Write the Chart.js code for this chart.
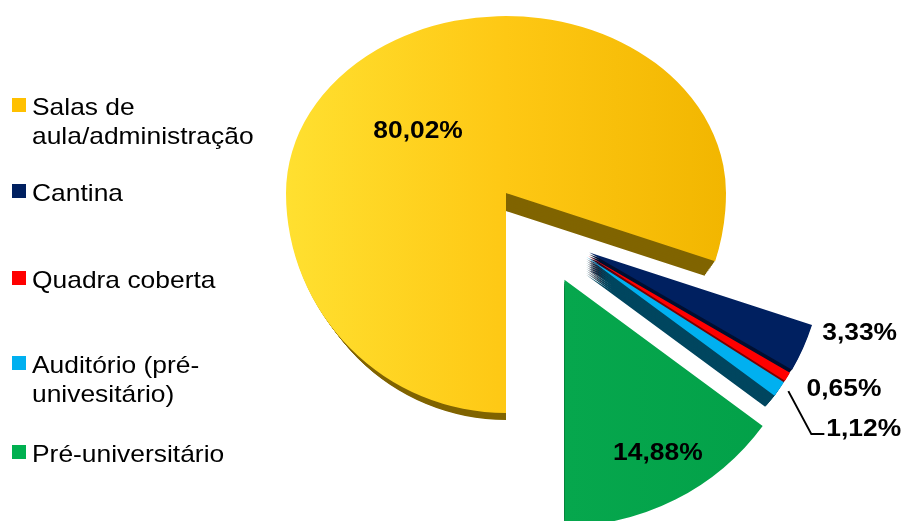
<!DOCTYPE html>
<html>
<head>
<meta charset="utf-8">
<script src="https://cdn.jsdelivr.net/npm/chart.js@4.4.1/dist/chart.umd.min.js"></script>
<style>
  html, body { margin: 0; padding: 0; background: #fff; }
  #wrap { position: relative; width: 906px; height: 521px; overflow: hidden; }
  #pie { position: absolute; left: 0; top: 0; }
  #legend { position: absolute; left: 0; top: 0; font-family: 'Liberation Sans', Arial, sans-serif; font-size: 24px; color: #000; }
  .box { position: absolute; left: 12px; width: 14px; height: 14px; }
  .txt { position: absolute; left: 32px; line-height: 29px; white-space: nowrap; transform: scaleX(1.1); transform-origin: 0 0; }
</style>
</head>
<body>
<div id="wrap">
  <canvas id="pie" width="906" height="521"></canvas>
  <div id="legend"></div>
</div>
<script>
// categories (legend lines) and shares in %
const categories = [
    ['Salas de', 'aula/administração'],
    ['Cantina'],
    ['Quadra coberta'],
    ['Auditório (pré-', 'univesitário)'],
    ['Pré-universitário']
];
const shares = [80.02, 3.33, 0.65, 1.12, 14.88];

const sliceColors = ['#FFC000', '#002060', '#FF0000', '#00B0F0', '#00B050'];
const wallColors  = ['#806400', '#000F30', '#7A0000', '#00465F', '#005A28'];

// explode direction (deg) / distance, radius scale and wall shrink per slice
const explodeAngle = [0, 35.5, 37.5, 38.5, 56];
const explodeDist  = [0, 93, 93, 93, 95];
const sliceScale   = [1, 1.065, 1.065, 1.065, 1.12];
const wallShrink   = [0.95, 0.95, 0.95, 0.95, 0.86];

// label placement: inside = [angle offset from mid, radius fraction]; outside = screen nudge from rim
const labelInside  = { 0: [-13, 0.53], 4: [-1.5, 0.8] };
const labelOutside = { 1: [19, -15], 2: [19, 13], 3: [47, 40] };
const legendTop = [92, 178, 265, 350, 439];

const W = 906, H = 521;
const SX = 1.1, K_TOP = 0.885, K_BOT = 1.1;
const DEPTH = 18;
const rad = d => d * Math.PI / 180;

// legend
const legend = document.getElementById('legend');
categories.forEach((lines, i) => {
    const box = document.createElement('div');
    box.className = 'box';
    box.style.top = (legendTop[i] + 6) + 'px';
    box.style.background = sliceColors[i];
    const txt = document.createElement('div');
    txt.className = 'txt';
    txt.style.top = legendTop[i] + 'px';
    txt.innerHTML = lines.join('<br>');
    legend.appendChild(box);
    legend.appendChild(txt);
});

function fillFor(ctx, i, cx, r) {
    if (i === 0) {
        const g = ctx.createLinearGradient(cx - r, 0, cx + r, 0);
        g.addColorStop(0, '#FFE030');
        g.addColorStop(0.5, '#FEC814');
        g.addColorStop(1, '#F2B600');
        return g;
    }
    if (i === 4) {
        const g = ctx.createLinearGradient(cx - r, 0, cx + r, 0);
        g.addColorStop(0, '#0AAE52');
        g.addColorStop(1, '#02A048');
        return g;
    }
    return sliceColors[i];
}

function drawSlice(ctx, arc, i, k, d, shrink, color) {
    const cx = arc.x, cy = arc.y;
    ctx.save();
    ctx.translate(cx, cy + d);
    ctx.scale(SX, k);
    ctx.translate(Math.cos(rad(explodeAngle[i])) * explodeDist[i], Math.sin(rad(explodeAngle[i])) * explodeDist[i]);
    const s = sliceScale[i] * shrink;
    ctx.scale(s, s);
    ctx.translate(-cx, -cy);
    const opts = arc.options;
    arc.options = Object.assign({}, opts, { backgroundColor: color, borderWidth: 0 });
    arc.draw(ctx);
    arc.options = opts;
    ctx.restore();
}

// point on a slice (polar around its own apex) -> screen
function slicePoint(arc, i, angDeg, rf) {
    const cx = arc.x, cy = arc.y;
    const ex = Math.cos(rad(explodeAngle[i])) * explodeDist[i];
    const ey = Math.sin(rad(explodeAngle[i])) * explodeDist[i];
    const rr = arc.outerRadius * sliceScale[i] * rf;
    const px = ex + Math.cos(rad(angDeg)) * rr;
    const py = ey + Math.sin(rad(angDeg)) * rr;
    return { x: cx + px * SX, y: cy + py * (py < 0 ? K_TOP : K_BOT) };
}

function fmt(v) { return v.toFixed(2).replace('.', ',') + '%'; }

function stretchedText(ctx, text, x, y, align) {
    ctx.save();
    ctx.translate(x, y);
    ctx.scale(SX, 1);
    ctx.textAlign = align;
    ctx.fillText(text, 0, 0);
    ctx.restore();
}

const pie3d = {
    id: 'pie3d',
    beforeDatasetsDraw(chart) {
        const ctx = chart.ctx;
        const arcs = chart.getDatasetMeta(0).data;
        const cx = arcs[0].x, cy = arcs[0].y, r = arcs[0].outerRadius;

        // side walls: stacked darker copies pushed down
        for (let d = DEPTH; d >= 1; d -= 2) {
            [[0, cy + d + 0.5, K_TOP], [cy + d - 0.5, H, K_BOT]].forEach(([y0, y1, k]) => {
                ctx.save();
                ctx.beginPath();
                ctx.rect(0, y0, W, y1 - y0);
                ctx.clip();
                arcs.forEach((arc, i) => {
                    const shrink = 1 - (1 - wallShrink[i]) * d / DEPTH;
                    drawSlice(ctx, arc, i, k, d, shrink, wallColors[i]);
                });
                ctx.restore();
            });
        }
        // top faces
        [[0, cy + 0.5, K_TOP], [cy - 0.5, H, K_BOT]].forEach(([y0, y1, k]) => {
            ctx.save();
            ctx.beginPath();
            ctx.rect(0, y0, W, y1 - y0);
            ctx.clip();
            arcs.forEach((arc, i) => drawSlice(ctx, arc, i, k, 0, 1, fillFor(ctx, i, cx, r)));
            ctx.restore();
        });

        // value labels
        ctx.save();
        ctx.fillStyle = '#000';
        ctx.strokeStyle = '#000';
        ctx.lineWidth = 2;
        ctx.font = "bold 24px 'Liberation Sans', Arial, sans-serif";
        ctx.textBaseline = 'middle';
        arcs.forEach((arc, i) => {
            const mid = (arc.startAngle + arc.endAngle) / 2 * 180 / Math.PI;
            const text = fmt(shares[i]);
            if (labelInside[i]) {
                const [da, rf] = labelInside[i];
                const p = slicePoint(arc, i, mid + da, rf);
                stretchedText(ctx, text, p.x, p.y, 'center');
            } else {
                const [nx, ny] = labelOutside[i];
                const rim = slicePoint(arc, i, mid, 1);
                const lx = rim.x + nx, ly = rim.y + ny;
                if (nx > 30) {
                    // leader line for the narrow slice
                    ctx.beginPath();
                    ctx.moveTo(rim.x + 9, rim.y + 2);
                    ctx.lineTo(lx - 15, ly + 5);
                    ctx.lineTo(lx - 2, ly + 5);
                    ctx.stroke();
                }
                stretchedText(ctx, text, lx, ly, 'left');
            }
        });
        ctx.restore();
        return false;
    }
};

new Chart(document.getElementById('pie'), {
    type: 'pie',
    data: {
        labels: categories.map(l => l.join(' ')),
        datasets: [{
            data: shares,
            backgroundColor: sliceColors,
            borderWidth: 0
        }]
    },
    options: {
        responsive: false,
        animation: false,
        events: [],
        radius: 200,
        rotation: 180,
        layout: { padding: { left: 106, right: 0, top: 0, bottom: 135 } },
        plugins: {
            legend: { display: false },
            tooltip: { enabled: false }
        }
    },
    plugins: [pie3d]
});
</script>
</body>
</html>
